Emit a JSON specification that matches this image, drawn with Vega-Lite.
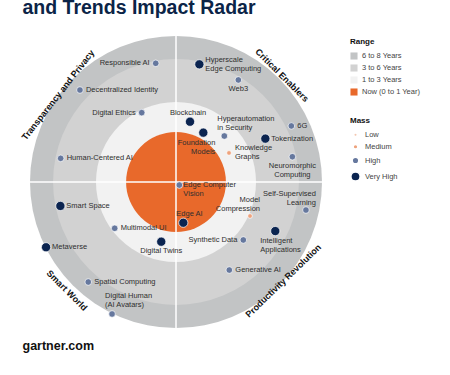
{
  "$schema": "https://vega.github.io/schema/vega-lite/v6.json",
  "width": 450,
  "height": 375,
  "padding": 0,
  "autosize": {"type": "none"},
  "background": "white",
  "config": {"view": {"stroke": null}, "font": "Liberation Sans"},
  "datasets": {
    "rings": [
      {"range": "6 to 8 Years", "r": 100},
      {"range": "3 to 6 Years", "r": 84.2},
      {"range": "1 to 3 Years", "r": 54.8},
      {"range": "Now (0 to 1 Year)", "r": 34.2}
    ],
    "dividers": [
      {"x": -100, "x2": 100, "y": 0, "y2": 0},
      {"x": 0, "x2": 0, "y": -100, "y2": 100}
    ],
    "items": [
      {"name": "Responsible AI", "x": -13.9, "y": 81.3, "mass": "High"},
      {"name": "Decentralized Identity", "x": -65.8, "y": 63.0, "mass": "High"},
      {"name": "Digital Ethics", "x": -23.5, "y": 47.5, "mass": "High"},
      {"name": "Human-Centered AI", "x": -79.0, "y": 16.2, "mass": "High"},
      {"name": "Hyperscale\nEdge Computing", "x": 16.0, "y": 80.6, "mass": "Very High"},
      {"name": "Web3", "x": 42.7, "y": 69.9, "mass": "High"},
      {"name": "Blockchain", "x": 9.6, "y": 41.3, "mass": "Very High"},
      {"name": "Foundation\nModels", "x": 18.7, "y": 33.8, "mass": "Very High"},
      {"name": "Hyperautomation\nin Security", "x": 33.1, "y": 31.5, "mass": "High"},
      {"name": "Knowledge\nGraphs", "x": 36.3, "y": 19.9, "mass": "Medium"},
      {"name": "6G", "x": 79.0, "y": 38.4, "mass": "High"},
      {"name": "Tokenization", "x": 61.2, "y": 29.7, "mass": "Very High"},
      {"name": "Neuromorphic\nComputing", "x": 79.7, "y": 17.3, "mass": "High"},
      {"name": "Edge Computer\nVision", "x": 2.3, "y": -2.1, "mass": "High"},
      {"name": "Edge AI", "x": 5.0, "y": -27.9, "mass": "Very High"},
      {"name": "Model\nCompression", "x": 50.7, "y": -23.3, "mass": "Medium"},
      {"name": "Self-Supervised\nLearning", "x": 89.0, "y": -19.2, "mass": "High"},
      {"name": "Synthetic Data", "x": 46.1, "y": -39.7, "mass": "High"},
      {"name": "Intelligent\nApplications", "x": 68.0, "y": -33.6, "mass": "Very High"},
      {"name": "Generative AI", "x": 36.5, "y": -60.3, "mass": "High"},
      {"name": "Smart Space", "x": -79.2, "y": -16.4, "mass": "Very High"},
      {"name": "Multimodal UI", "x": -42.0, "y": -31.7, "mass": "High"},
      {"name": "Metaverse", "x": -89.0, "y": -44.7, "mass": "Very High"},
      {"name": "Digital Twins", "x": -10.1, "y": -40.9, "mass": "Very High"},
      {"name": "Spatial Computing", "x": -60.1, "y": -68.5, "mass": "High"},
      {"name": "Digital Human\n(AI Avatars)", "x": -43.8, "y": -90.4, "mass": "High"}
    ],
    "quadrants": [
      {"q": "Transparency and Privacy", "x": -80.8, "y": 59.6},
      {"q": "Critical Enablers", "x": 72.6, "y": 73.1},
      {"q": "Smart World", "x": -74.7, "y": -74.3},
      {"q": "Productivity Revolution", "x": 73.5, "y": -67.7}
    ]
  },
  "layer": [
    {
      "data": {"name": "rings"},
      "mark": {"type": "arc", "theta": 0, "theta2": 6.2832},
      "encoding": {
        "x": {"datum": 0, "type": "quantitative",
          "scale": {"domain": [-120.55, 187.67], "nice": false, "zero": false},
          "axis": {"orient": "top", "zindex": 1, "domain": false, "ticks": false, "labels": false, "grid": false,
            "title": "and Trends Impact Radar", "titleX": 22, "titleY": 13.5, "titleAlign": "left",
            "titleAnchor": "start", "titleBaseline": "alphabetic", "titleFontSize": 19.5, "titleFontWeight": "bold",
            "titleColor": "#0b2447", "titleFont": "Liberation Sans"}},
        "y": {"datum": 0, "type": "quantitative",
          "scale": {"domain": [-132.19, 124.66], "nice": false, "zero": false}, "axis": null},
        "radius": {"field": "r", "type": "quantitative", "stack": null,
          "scale": {"type": "linear", "domain": [0, 100], "range": [0, 146], "zero": true}},
        "fill": {"field": "range", "type": "nominal",
          "scale": {"domain": ["6 to 8 Years", "3 to 6 Years", "1 to 3 Years", "Now (0 to 1 Year)"],
            "range": ["#c2c4c5", "#d2d2d2", "#f2f2f2", "#e8692b"]},
          "legend": {"title": "Range", "orient": "none", "legendX": 350, "legendY": 38,
            "symbolType": "square", "symbolSize": 50, "symbolStrokeWidth": 0,
            "titleFontSize": 8, "titleFontWeight": "bold", "titleColor": "#111",
            "labelFontSize": 7.5, "labelColor": "#444", "rowPadding": 4, "titlePadding": 6}}
      }
    },
    {
      "data": {"name": "dividers"},
      "mark": {"type": "rule", "color": "white", "strokeWidth": 1.5},
      "encoding": {
        "x": {"field": "x", "type": "quantitative", "axis": null},
        "x2": {"field": "x2"},
        "y": {"field": "y", "type": "quantitative", "axis": null},
        "y2": {"field": "y2"}
      }
    },
    {
      "data": {"name": "items"},
      "mark": {"type": "point", "filled": true, "stroke": "white", "strokeWidth": 0.7, "opacity": 1},
      "encoding": {
        "x": {"field": "x", "type": "quantitative",
          "axis": {"orient": "bottom", "zindex": 1, "domain": false, "ticks": false, "labels": false, "grid": false,
            "title": "gartner.com", "titleX": 22, "titleY": -26, "titleAlign": "left", "titleAnchor": "start",
            "titleBaseline": "alphabetic", "titleFontSize": 12.5, "titleFontWeight": "bold", "titleColor": "#111"}},
        "y": {"field": "y", "type": "quantitative",
          "axis": {"orient": "left", "zindex": 1, "domain": false, "ticks": false, "labels": false, "grid": false,
            "title": "Note: Range measures number of years it will take the technology/trend to cross over",
            "titleX": 22, "titleY": 369, "titleAngle": 0, "titleAlign": "left", "titleAnchor": "start",
            "titleBaseline": "alphabetic", "titleFontSize": 4.6, "titleFontWeight": "normal", "titleColor": "#8a8a8a"}},
        "color": {"field": "mass", "type": "ordinal",
          "scale": {"type": "ordinal", "domain": ["Low", "Medium", "High", "Very High"],
            "range": ["#f3c7b0", "#eea27c", "#66789e", "#0b2450"]},
          "legend": {"title": "Mass", "orient": "none", "legendX": 350, "legendY": 117,
            "titleFontSize": 8, "titleFontWeight": "bold", "titleColor": "#111",
            "labelFontSize": 7.5, "labelColor": "#444", "rowPadding": 1, "titlePadding": 6}},
        "size": {"field": "mass", "type": "ordinal",
          "scale": {"type": "ordinal", "domain": ["Low", "Medium", "High", "Very High"], "range": [12, 22, 44, 85]},
          "legend": {"title": "Mass", "orient": "none", "legendX": 350, "legendY": 117,
            "titleFontSize": 8, "titleFontWeight": "bold", "titleColor": "#111",
            "labelFontSize": 7.5, "labelColor": "#444", "rowPadding": 1, "titlePadding": 6}}
      }
    },
    {
      "data": {"name": "items"},
      "transform": [{"filter": {"field": "name", "oneOf": ["Decentralized Identity", "Human-Centered AI", "6G", "Tokenization", "Generative AI", "Smart Space", "Multimodal UI", "Metaverse", "Spatial Computing"]}}],
      "mark": {"type": "text", "align": "left", "baseline": "middle", "dx": 6, "fontSize": 7.5, "lineHeight": 9, "color": "#2e2e2e", "lineBreak": "\n"},
      "encoding": {
        "x": {"field": "x", "type": "quantitative", "axis": null},
        "y": {"field": "y", "type": "quantitative", "axis": null},
        "text": {"field": "name"}
      }
    },
    {
      "data": {"name": "items"},
      "transform": [{"filter": {"field": "name", "oneOf": ["Knowledge\nGraphs", "Hyperscale\nEdge Computing"]}}],
      "mark": {"type": "text", "align": "left", "baseline": "middle", "dx": 6, "dy": -4.5, "fontSize": 7.5, "lineHeight": 9, "color": "#2e2e2e", "lineBreak": "\n"},
      "encoding": {
        "x": {"field": "x", "type": "quantitative", "axis": null},
        "y": {"field": "y", "type": "quantitative", "axis": null},
        "text": {"field": "name"}
      }
    },
    {
      "data": {"name": "items"},
      "transform": [{"filter": {"field": "name", "oneOf": ["Responsible AI", "Digital Ethics", "Synthetic Data"]}}],
      "mark": {"type": "text", "align": "right", "baseline": "middle", "dx": -6, "fontSize": 7.5, "lineHeight": 9, "color": "#2e2e2e", "lineBreak": "\n"},
      "encoding": {
        "x": {"field": "x", "type": "quantitative", "axis": null},
        "y": {"field": "y", "type": "quantitative", "axis": null},
        "text": {"field": "name"}
      }
    },
    {
      "data": {"name": "items"},
      "transform": [{"filter": {"field": "name", "oneOf": ["Web3", "Neuromorphic\nComputing", "Digital Twins"]}}],
      "mark": {"type": "text", "align": "center", "baseline": "top", "dy": 5, "fontSize": 7.5, "lineHeight": 9, "color": "#2e2e2e", "lineBreak": "\n"},
      "encoding": {
        "x": {"field": "x", "type": "quantitative", "axis": null},
        "y": {"field": "y", "type": "quantitative", "axis": null},
        "text": {"field": "name"}
      }
    },
    {
      "data": {"name": "items"},
      "transform": [{"filter": {"field": "name", "oneOf": ["Blockchain"]}}],
      "mark": {"type": "text", "align": "center", "baseline": "bottom", "dy": -5, "dx": -2, "fontSize": 7.5, "lineHeight": 9, "color": "#2e2e2e", "lineBreak": "\n"},
      "encoding": {
        "x": {"field": "x", "type": "quantitative", "axis": null},
        "y": {"field": "y", "type": "quantitative", "axis": null},
        "text": {"field": "name"}
      }
    },
    {
      "data": {"name": "items"},
      "transform": [{"filter": {"field": "name", "oneOf": ["Edge AI"]}}],
      "mark": {"type": "text", "align": "left", "baseline": "bottom", "dx": -7, "dy": -5, "fontSize": 7.5, "lineHeight": 9, "color": "#2e2e2e", "lineBreak": "\n"},
      "encoding": {
        "x": {"field": "x", "type": "quantitative", "axis": null},
        "y": {"field": "y", "type": "quantitative", "axis": null},
        "text": {"field": "name"}
      }
    },
    {
      "data": {"name": "items"},
      "transform": [{"filter": {"field": "name", "oneOf": ["Digital Human\n(AI Avatars)", "Hyperautomation\nin Security"]}}],
      "mark": {"type": "text", "align": "left", "baseline": "bottom", "dx": -7, "dy": -13.5, "fontSize": 7.5, "lineHeight": 9, "color": "#2e2e2e", "lineBreak": "\n"},
      "encoding": {
        "x": {"field": "x", "type": "quantitative", "axis": null},
        "y": {"field": "y", "type": "quantitative", "axis": null},
        "text": {"field": "name"}
      }
    },
    {
      "data": {"name": "items"},
      "transform": [{"filter": {"field": "name", "oneOf": ["Model\nCompression", "Self-Supervised\nLearning"]}}],
      "mark": {"type": "text", "align": "right", "baseline": "bottom", "dx": 10, "dy": -12.5, "fontSize": 7.5, "lineHeight": 9, "color": "#2e2e2e", "lineBreak": "\n"},
      "encoding": {
        "x": {"field": "x", "type": "quantitative", "axis": null},
        "y": {"field": "y", "type": "quantitative", "axis": null},
        "text": {"field": "name"}
      }
    },
    {
      "data": {"name": "items"},
      "transform": [{"filter": {"field": "name", "oneOf": ["Foundation\nModels"]}}],
      "mark": {"type": "text", "align": "right", "baseline": "top", "dx": 12, "dy": 6, "fontSize": 7.5, "lineHeight": 9, "color": "#2e2e2e", "lineBreak": "\n"},
      "encoding": {
        "x": {"field": "x", "type": "quantitative", "axis": null},
        "y": {"field": "y", "type": "quantitative", "axis": null},
        "text": {"field": "name"}
      }
    },
    {
      "data": {"name": "items"},
      "transform": [{"filter": {"field": "name", "oneOf": ["Intelligent\nApplications"]}}],
      "mark": {"type": "text", "align": "left", "baseline": "top", "dx": -15, "dy": 6, "fontSize": 7.5, "lineHeight": 9, "color": "#2e2e2e", "lineBreak": "\n"},
      "encoding": {
        "x": {"field": "x", "type": "quantitative", "axis": null},
        "y": {"field": "y", "type": "quantitative", "axis": null},
        "text": {"field": "name"}
      }
    },
    {
      "data": {"name": "items"},
      "transform": [{"filter": {"field": "name", "oneOf": ["Edge Computer\nVision"]}}],
      "mark": {"type": "text", "align": "left", "baseline": "top", "dx": 4, "dy": -4, "fontSize": 7.5, "lineHeight": 9, "color": "#2e2e2e", "lineBreak": "\n"},
      "encoding": {
        "x": {"field": "x", "type": "quantitative", "axis": null},
        "y": {"field": "y", "type": "quantitative", "axis": null},
        "text": {"field": "name"}
      }
    },
    {
      "data": {"name": "quadrants"},
      "transform": [{"filter": {"field": "q", "oneOf": ["Transparency and Privacy"]}}],
      "mark": {"type": "text", "align": "center", "baseline": "middle", "angle": 308, "fontSize": 9, "fontWeight": "bold", "color": "#111"},
      "encoding": {
        "x": {"field": "x", "type": "quantitative", "axis": null},
        "y": {"field": "y", "type": "quantitative", "axis": null},
        "text": {"field": "q"}
      }
    },
    {
      "data": {"name": "quadrants"},
      "transform": [{"filter": {"field": "q", "oneOf": ["Critical Enablers", "Smart World"]}}],
      "mark": {"type": "text", "align": "center", "baseline": "middle", "angle": 45, "fontSize": 9, "fontWeight": "bold", "color": "#111"},
      "encoding": {
        "x": {"field": "x", "type": "quantitative", "axis": null},
        "y": {"field": "y", "type": "quantitative", "axis": null},
        "text": {"field": "q"}
      }
    },
    {
      "data": {"name": "quadrants"},
      "transform": [{"filter": {"field": "q", "oneOf": ["Productivity Revolution"]}}],
      "mark": {"type": "text", "align": "center", "baseline": "middle", "angle": 316, "fontSize": 9, "fontWeight": "bold", "color": "#111"},
      "encoding": {
        "x": {"field": "x", "type": "quantitative", "axis": null},
        "y": {"field": "y", "type": "quantitative", "axis": null},
        "text": {"field": "q"}
      }
    }
  ]
}
